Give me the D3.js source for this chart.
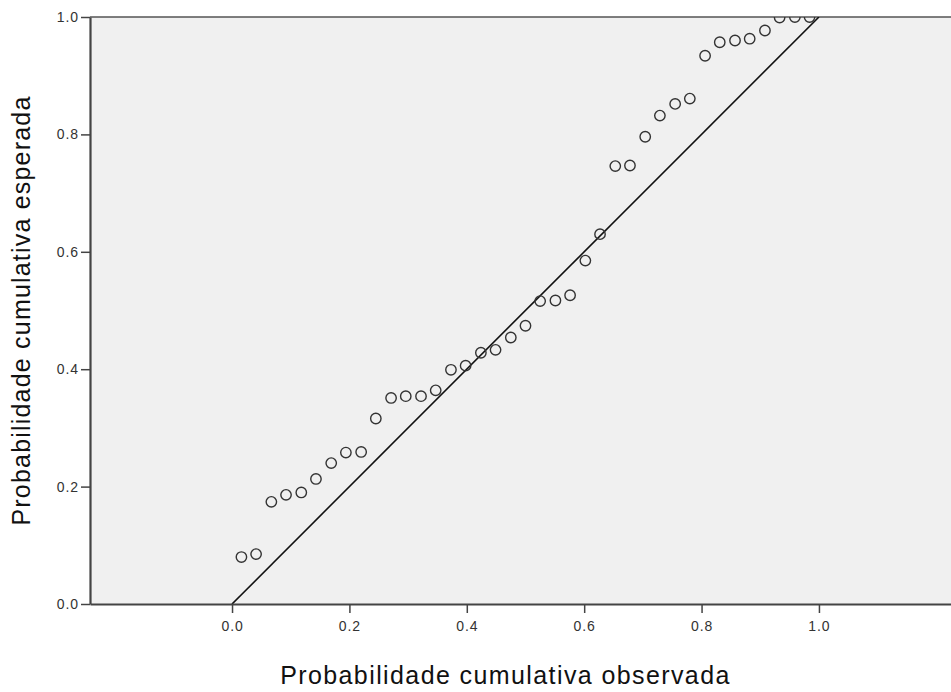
<!DOCTYPE html>
<html>
<head>
<meta charset="utf-8">
<script src="https://cdn.jsdelivr.net/npm/d3@7"></script>
<style>
  body { margin: 0; background: #fff; }
  svg { display: block; font-family: "Liberation Sans", Arial, sans-serif; }
</style>
</head>
<body>
<svg id="chart" width="951" height="692"></svg>
<script>
// observed cumulative probability (x) and expected cumulative probability (y)
const observed = [0.016, 0.041, 0.067, 0.092, 0.118, 0.143, 0.169, 0.194, 0.220, 0.245,
  0.271, 0.296, 0.322, 0.347, 0.373, 0.398, 0.424, 0.449, 0.475, 0.500,
  0.525, 0.551, 0.576, 0.602, 0.627, 0.653, 0.678, 0.704, 0.729, 0.755,
  0.780, 0.806, 0.831, 0.857, 0.882, 0.908, 0.933, 0.959, 0.984];
const expected = [0.080, 0.085, 0.174, 0.186, 0.190, 0.213, 0.240, 0.258, 0.259, 0.316,
  0.351, 0.354, 0.354, 0.364, 0.399, 0.406, 0.428, 0.433, 0.454, 0.474,
  0.516, 0.517, 0.526, 0.585, 0.630, 0.746, 0.747, 0.796, 0.832, 0.852,
  0.861, 0.934, 0.957, 0.960, 0.963, 0.977, 0.999, 1.000, 1.000];
const refLine = [[0, 0], [1, 1]];
const xTicks = [0, 0.2, 0.4, 0.6, 0.8, 1.0];
const yTicks = [0, 0.2, 0.4, 0.6, 0.8, 1.0];
const xTitle = "Probabilidade cumulativa observada";
const yTitle = "Probabilidade cumulativa esperada";

const svg = d3.select("#chart");
const plot = { left: 90, right: 951, top: 17, bottom: 604 };

const x = d3.scaleLinear().domain([-0.242, 1.225]).range([plot.left, plot.right]);
const y = d3.scaleLinear().domain([0, 1]).range([plot.bottom, plot.top]);

svg.append("defs").append("clipPath").attr("id", "clip")
  .append("rect")
  .attr("x", plot.left).attr("y", plot.top)
  .attr("width", plot.right - plot.left).attr("height", plot.bottom - plot.top);

svg.append("rect")
  .attr("x", plot.left).attr("y", plot.top)
  .attr("width", plot.right - plot.left).attr("height", plot.bottom - plot.top)
  .attr("fill", "#f0f0f0");

// top frame line
svg.append("line")
  .attr("x1", plot.left).attr("x2", plot.right)
  .attr("y1", plot.top).attr("y2", plot.top)
  .attr("stroke", "#555").attr("stroke-width", 1.5);

const g = svg.append("g").attr("clip-path", "url(#clip)");

g.append("path")
  .datum(refLine)
  .attr("d", d3.line().x(d => x(d[0])).y(d => y(d[1])))
  .attr("fill", "none")
  .attr("stroke", "#111")
  .attr("stroke-width", 1.6);

g.selectAll("circle")
  .data(observed.map((o, i) => ({ o: o, e: expected[i] })))
  .enter()
  .append("circle")
  .attr("cx", d => x(d.o))
  .attr("cy", d => y(d.e))
  .attr("r", 5.2)
  .attr("fill", "none")
  .attr("stroke", "#333")
  .attr("stroke-width", 1.4);

const fmt = d3.format(".1f");

const xAxis = svg.append("g")
  .attr("transform", `translate(0,${plot.bottom})`)
  .call(d3.axisBottom(x).tickValues(xTicks).tickFormat(fmt).tickSize(9).tickSizeOuter(0).tickPadding(8));

const yAxis = svg.append("g")
  .attr("transform", `translate(${plot.left},0)`)
  .call(d3.axisLeft(y).tickValues(yTicks).tickFormat(fmt).tickSize(9).tickSizeOuter(0).tickPadding(2));

[xAxis, yAxis].forEach(a => {
  a.select(".domain").attr("stroke", "#444").attr("stroke-width", 2.2);
  a.selectAll(".tick line").attr("stroke", "#444").attr("stroke-width", 1.5);
  a.selectAll(".tick text")
    .attr("fill", "#333")
    .style("font-size", "14px")
    .style("letter-spacing", "0.9px")
    .style("font-family", "'Liberation Sans', Arial, sans-serif");
});

svg.append("text")
  .attr("x", (x(0) + x(1)) / 2 - 20)
  .attr("y", 684)
  .attr("text-anchor", "middle")
  .attr("fill", "#111")
  .style("font-size", "25px")
  .style("letter-spacing", "1.4px")
  .text(xTitle);

svg.append("text")
  .attr("transform", `translate(30,${(plot.top + plot.bottom) / 2}) rotate(-90)`)
  .attr("text-anchor", "middle")
  .attr("fill", "#111")
  .style("font-size", "25px")
  .style("letter-spacing", "1.2px")
  .text(yTitle);
</script>
</body>
</html>
